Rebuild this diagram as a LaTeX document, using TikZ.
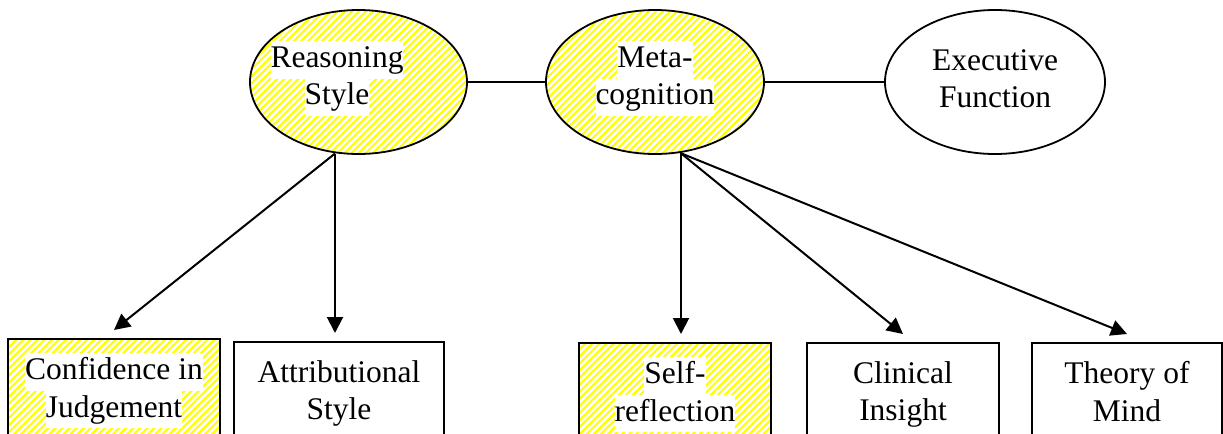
\documentclass[tikz,border=0pt]{standalone}
\usepackage{fontspec}
\setmainfont{Liberation Serif}
\usetikzlibrary{arrows.meta,shapes.geometric,patterns.meta}

% white strip behind one line of text
\newcommand{\wline}[1]{{\setlength{\fboxsep}{0pt}\colorbox{white}{\strut #1}}}

\begin{document}
\begin{tikzpicture}[
  x=0.5pt,y=-0.5pt,
  font=\fontsize{15.75}{18.75}\selectfont,
  construct/.style={draw,ellipse,line width=0.9pt,inner sep=0pt,
                    minimum height=72pt},
  measure/.style={draw,rectangle,line width=0.9pt,anchor=north,
                  minimum height=60pt,inner sep=0pt},
  hatch/.style={pattern={Lines[angle=45,distance=2.5pt,line width=1.1pt]},
                pattern color=yellow},
  lbl/.style={align=center,inner sep=0pt},
  arrow/.style={-{Triangle[length=8pt,width=8pt]},line width=1pt}
]
\useasboundingbox (0,0) rectangle (1223,434);

% latent constructs
\node[construct,hatch,minimum width=108.5pt,
      label={[lbl,anchor=center,xshift=-10.75pt,yshift=1.75pt]center:{\wline{Reasoning}\\\wline{Style}}}]
  (rs) at (358.5,82) {};
\node[construct,hatch,minimum width=109pt,
      label={[lbl,anchor=center,yshift=1.75pt]center:{\wline{Meta-}\\\wline{cognition}}}]
  (mc) at (655,82) {};
\node[construct,minimum width=110pt,
      label={[lbl,anchor=center,yshift=1.75pt]center:{Executive\\Function}}]
  (ef) at (995,82) {};
\draw[line width=0.9pt] (rs.east) -- (mc.west);
\draw[line width=0.9pt] (mc.east) -- (ef.west);

% observed measures
\node[measure,hatch,minimum width=106pt,
      label={[lbl,anchor=north,yshift=-7.5pt]north:{\wline{Confidence in}\\\wline{Judgement}}}]
  (cj) at (114,338) {};
\node[measure,minimum width=105pt,
      label={[lbl,anchor=north,yshift=-9.5pt]north:{Attributional\\Style}}]
  (as) at (339,341) {};
\node[measure,hatch,minimum width=96pt,
      label={[lbl,anchor=north,yshift=-7.5pt]north:{\wline{Self-}\\\wline{reflection}}}]
  (sr) at (675,342) {};
\node[measure,minimum width=96pt,
      label={[lbl,anchor=north,yshift=-9.5pt]north:{Clinical\\Insight}}]
  (ci) at (903,342) {};
\node[measure,minimum width=95pt,
      label={[lbl,anchor=north,yshift=-9.5pt]north:{Theory of\\Mind}}]
  (tm) at (1127,342) {};

\coordinate (rs-foot) at ([xshift=-11.75pt,yshift=0.8pt]rs.south);
\coordinate (mc-foot) at ([xshift=13pt,yshift=0.8pt]mc.south);

\draw[arrow] (rs-foot) -- ([yshift=4pt]cj.north);
\draw[arrow] (rs-foot) -- ([yshift=4pt]rs-foot |- as.north);
\draw[arrow] (mc-foot) -- ([yshift=4pt]mc-foot |- sr.north);
\draw[arrow] (mc-foot) -- ([yshift=4pt]ci.north);
\draw[arrow] (mc-foot) -- ([yshift=4pt]tm.north);
\end{tikzpicture}
\end{document}
